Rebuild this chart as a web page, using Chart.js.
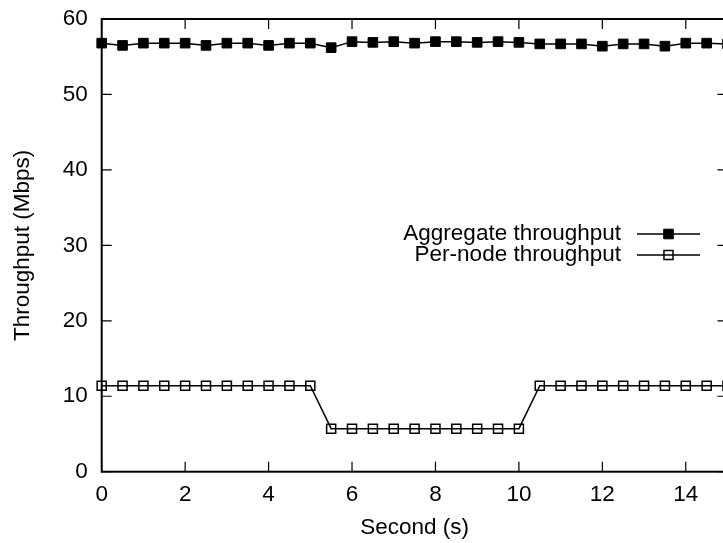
<!DOCTYPE html>
<html>
<head>
<meta charset="utf-8">
<script src="https://cdn.jsdelivr.net/npm/chart.js@4/dist/chart.umd.min.js"></script>
<style>
  html, body { margin: 0; padding: 0; background: #fff; overflow: hidden; }
  #wrap { width: 740px; height: 543px; }
</style>
</head>
<body>
<div id="wrap"><canvas id="chart" width="740" height="543"></canvas></div>
<script>
// Time axis (seconds), one sample every half second
const seconds = [0, 0.5, 1, 1.5, 2, 2.5, 3, 3.5, 4, 4.5, 5, 5.5, 6, 6.5, 7, 7.5,
                 8, 8.5, 9, 9.5, 10, 10.5, 11, 11.5, 12, 12.5, 13, 13.5, 14, 14.5, 15];

// Throughput readings (Mbps)
const aggregate = [56.8, 56.5, 56.8, 56.8, 56.8, 56.5, 56.8, 56.8, 56.5, 56.8, 56.8,
                   56.2, 57.0, 56.9, 57.0, 56.8, 57.0, 57.0, 56.9, 57.0, 56.9,
                   56.7, 56.7, 56.7, 56.4, 56.7, 56.7, 56.4, 56.8, 56.8, 56.7];
const perNode = [11.4, 11.4, 11.4, 11.4, 11.4, 11.4, 11.4, 11.4, 11.4, 11.4, 11.4,
                 5.7, 5.7, 5.7, 5.7, 5.7, 5.7, 5.7, 5.7, 5.7, 5.7,
                 11.4, 11.4, 11.4, 11.4, 11.4, 11.4, 11.4, 11.4, 11.4, 11.4];

const seriesLabels = ['Aggregate throughput', 'Per-node throughput'];
const xTicks = [0, 2, 4, 6, 8, 10, 12, 14];
const yTicks = [0, 10, 20, 30, 40, 50, 60];

const FONT = 'Liberation Sans, Arial, Helvetica, sans-serif';
const FSIZE = 22.5;
const toPoints = (vals) => vals.map((v, i) => ({ x: seconds[i], y: v }));

// gnuplot-like frame with inward ticks, plus a right-aligned key
const gnuplotFrame = {
    id: 'gnuplotFrame',
    afterDatasetsDraw(chart) {
        const ctx = chart.ctx;
        const { left, right, top, bottom } = chart.chartArea;
        const xs = chart.scales.x, ys = chart.scales.y;
        ctx.save();
        ctx.strokeStyle = '#000';

        // border
        ctx.lineWidth = 2;
        ctx.strokeRect(left, top, right - left, bottom - top);

        // inward ticks, mirrored
        ctx.lineWidth = 1.2;
        ctx.beginPath();
        xTicks.forEach(v => {
            const px = xs.getPixelForValue(v);
            ctx.moveTo(px, bottom); ctx.lineTo(px, bottom - 10);
            ctx.moveTo(px, top); ctx.lineTo(px, top + 10);
        });
        yTicks.forEach(v => {
            const py = ys.getPixelForValue(v);
            ctx.moveTo(left, py); ctx.lineTo(left + 10, py);
            ctx.moveTo(right, py); ctx.lineTo(right - 10, py);
        });
        ctx.stroke();

        // key
        const textRight = 621, lineL = 637, lineR = 700, rowY = [234, 255];
        ctx.font = FSIZE + 'px ' + FONT;
        ctx.fillStyle = '#000';
        ctx.textAlign = 'right';
        ctx.textBaseline = 'middle';
        chart.data.datasets.forEach((ds, i) => {
            const y = rowY[i];
            ctx.fillText(ds.label, textRight, y);
            ctx.lineWidth = 1.5;
            ctx.beginPath();
            ctx.moveTo(lineL, y); ctx.lineTo(lineR, y);
            ctx.stroke();
            ctx.fillStyle = ds.pointBackgroundColor;
            ctx.lineWidth = ds.pointBorderWidth;
            Chart.helpers.drawPoint(ctx, {
                pointStyle: 'rect', radius: ds.pointRadius, rotation: 0,
                borderWidth: ds.pointBorderWidth
            }, (lineL + lineR) / 2, y);
            ctx.fillStyle = '#000';
        });
        ctx.restore();
    }
};

new Chart(document.getElementById('chart'), {
    type: 'line',
    data: {
        datasets: [
            {
                label: seriesLabels[0],
                data: toPoints(aggregate),
                borderColor: '#000',
                borderWidth: 1.5,
                pointStyle: 'rect',
                pointRadius: 6.8,
                pointBackgroundColor: '#000',
                pointBorderColor: '#000',
                pointBorderWidth: 1,
                tension: 0,
                clip: false
            },
            {
                label: seriesLabels[1],
                data: toPoints(perNode),
                borderColor: '#000',
                borderWidth: 1.5,
                pointStyle: 'rect',
                pointRadius: 6.4,
                pointBackgroundColor: 'rgba(0,0,0,0)',
                pointBorderColor: '#000',
                pointBorderWidth: 1.5,
                tension: 0,
                clip: false
            }
        ]
    },
    options: {
        responsive: false,
        animation: false,
        devicePixelRatio: 1,
        layout: { padding: { left: 0, right: 12.5, top: 19, bottom: 0 } },
        plugins: {
            legend: { display: false },
            tooltip: { enabled: false }
        },
        scales: {
            x: {
                type: 'linear',
                min: 0,
                max: 15,
                afterFit: (s) => { s.height = 71.3; s.paddingLeft = 0; s.paddingRight = 0; },
                afterBuildTicks: (s) => { s.ticks = xTicks.map(v => ({ value: v })); },
                grid: { display: false, drawTicks: false },
                border: { display: false },
                ticks: {
                    autoSkip: false, maxRotation: 0, padding: 10,
                    color: '#000', font: { family: FONT, size: FSIZE }
                },
                title: {
                    display: true, text: 'Second (s)', color: '#000',
                    font: { family: FONT, size: FSIZE }, padding: { top: 0, bottom: 1.8 }
                }
            },
            y: {
                min: 0,
                max: 60,
                afterFit: (s) => { s.width = 101.7; s.paddingTop = 0; s.paddingBottom = 0; },
                afterBuildTicks: (s) => { s.ticks = yTicks.map(v => ({ value: v })); },
                grid: { display: false, drawTicks: false },
                border: { display: false },
                ticks: {
                    padding: 14,
                    color: '#000', font: { family: FONT, size: FSIZE }
                },
                title: {
                    display: true, text: 'Throughput (Mbps)', color: '#000',
                    font: { family: FONT, size: FSIZE }, padding: { top: 9.5, bottom: 0 }
                }
            }
        }
    },
    plugins: [gnuplotFrame]
});
</script>
</body>
</html>
